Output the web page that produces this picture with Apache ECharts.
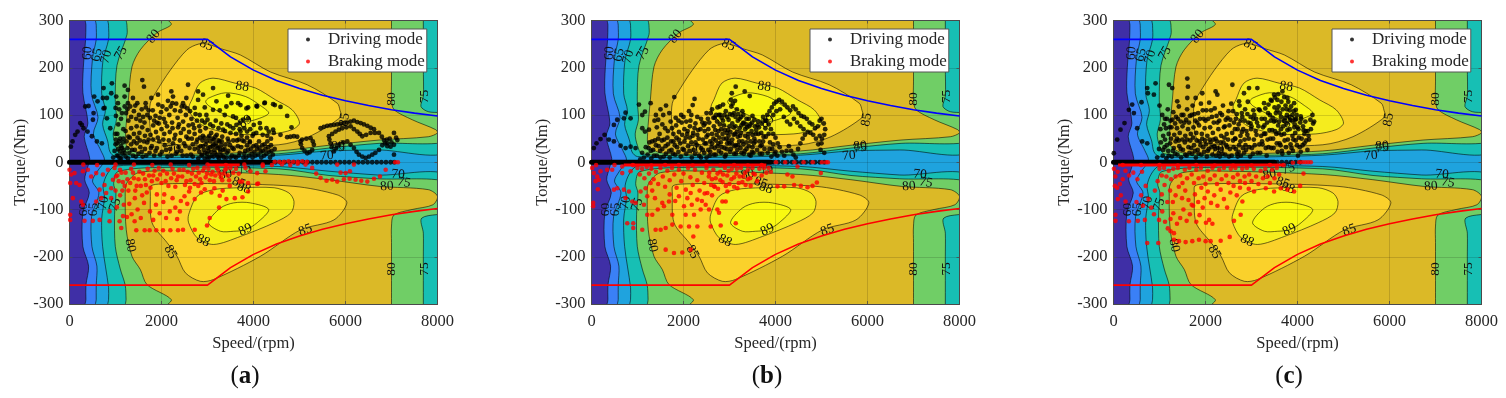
<!DOCTYPE html>
<html><head><meta charset="utf-8">
<style>html,body{margin:0;padding:0;background:#fff}#c{width:1506px;height:398px}</style>
<script src="https://cdn.jsdelivr.net/npm/echarts@6/dist/echarts.min.js"></script>
</head><body><div id="c"></div>
<script>
// efficiency contour outlines, [speed rpm, torque Nm]
const eff60=[[357,310],[357,290],[350,260],[300,200],[291,147],[400,83],[320,54],[440,8],[400,-9],[330,-37],[430,-65],[290,-107],[290,-178],[415,-220],[357,-260],[357,-290],[357,-310],[8300,-310],[8300,310]];
const eff65=[[581,310],[581,290],[581,260],[500,220],[475,145],[620,95],[520,60],[680,25],[760,4],[600,-20],[500,-40],[640,-65],[480,-115],[487,-178],[596,-220],[581,-260],[581,-290],[581,-310],[8300,-310],[8300,310]];
const eff70Up=[[849,310],[849,290],[849,260],[727,215],[700,145],[780,110],[720,80],[830,45],[880,22],[1000,12],[2500,10],[4550,15],[5638,24],[6700,26],[8300,29],[8300,310]];
const eff70Down=[[849,-310],[849,-290],[849,-265],[720,-178],[700,-120],[760,-75],[730,-50],[820,-25],[1000,-8],[2500,-7],[4550,-9],[5640,-19],[6700,-27],[8300,-35],[8300,-310]];
const eff75Up=[[1249,310],[1249,290],[1249,270],[1032,205],[995,132],[1020,90],[950,60],[1000,35],[1100,18],[2000,14],[3500,15],[4550,18],[5640,30],[6730,40],[8300,46],[8300,100],[7800,107],[7640,118],[7692,140],[7692,200],[7692,300],[7692,310]];
const eff75Down=[[1234,-310],[1230,-290],[1211,-260],[1104,-226],[995,-178],[980,-110],[1010,-65],[960,-45],[1050,-20],[2000,-11],[4550,-14],[5640,-28],[6700,-35],[8300,-44],[8300,-102],[7660,-118],[7692,-150],[7692,-200],[7692,-300],[7692,-310]];
const eff80Up=[[2050,310],[2214,292],[1900,274],[1539,238],[1358,202],[1280,132],[1220,60],[1240,35],[1500,20],[2500,17],[4550,24],[5640,36],[6730,47],[7800,54],[8000,62],[7960,69],[7450,90],[7050,112],[7000,135],[7000,170],[7000,250],[7000,300],[7000,310]];
const eff80Down=[[2050,-310],[2214,-291],[1685,-259],[1539,-227],[1358,-199],[1234,-143],[1211,-72],[1240,-45],[1500,-22],[2500,-19],[4550,-26],[5640,-37],[6730,-51],[7800,-58],[8000,-72],[7900,-90],[7450,-100],[7050,-112],[7000,-135],[7000,-170],[7000,-250],[7000,-300],[7000,-310]];
const eff85Up=[[2555,238],[2192,195],[1866,146],[1757,125],[1740,90],[1790,55],[1900,42],[3000,35],[4550,37],[5203,54],[5900,96],[5880,110],[5820,125],[5167,164],[4370,191],[3716,227],[3300,240],[3000,250],[2800,250]];
const eff85Down=[[1770,-50],[1757,-65],[1794,-128],[2120,-170],[2338,-199],[2519,-234],[2845,-252],[3133,-248],[4150,-199],[5024,-143],[5750,-122],[6030,-86],[5820,-69],[4880,-51],[3000,-45],[2000,-46]];
const eff88Up=[[2660,132],[2830,167],[3120,178],[3610,167],[4045,157],[4480,132],[4840,111],[5000,83],[4840,69],[4400,60],[3600,60],[2950,75],[2650,100],[2600,118]];
const eff88Down=[[2590,-111],[2775,-72],[3133,-58],[3700,-54],[4450,-54],[4770,-65],[4880,-83],[4815,-107],[4450,-128],[3716,-157],[3133,-174],[2775,-160],[2590,-128]];
const eff89Up=[[3030,136],[3390,147],[3830,139],[4150,120],[4330,104],[4100,92],[3790,86],[3400,100],[3050,118],[2960,128]];
const eff89Down=[[3023,-128],[3280,-97],[3570,-86],[3930,-86],[4330,-100],[4080,-128],[3825,-143],[3570,-146],[3280,-146]];
const effLevels=[eff60,eff65,eff70Up,eff70Down,eff75Up,eff75Down,eff80Up,eff80Down,eff85Up,eff85Down,eff88Up,eff88Down,eff89Up,eff89Down];
const effColors=['#3a80f6','#1fa3de','#17bfb4','#17bfb4','#70ce66','#70ce66','#dbb927','#dbb927','#fad12b','#fad12b','#f5ec1e','#f5ec1e','#f9f911','#f9f911'];
// contour labels: text, speed, torque, rotation
const effLabels=[['60',392,231,85],['65',596,227,78],['70',799,223,75],['75',1119,231,60],['80',1827,266,50],['85',2976,248,-25],['88',3753,160,-8],['89',3825,86,35],['85',5980,90,80],['80',7008,134,90],['75',7707,139,90],['80',7008,-226,90],['75',7707,-226,90],['70',5595,14,5],['80',5840,34,5],['75',5840,30,10],['70',2260,26,5],['70',7140,-26,-5],['75',7270,-43,-10],['80',6900,-51,5],['85',5130,-144,20],['85',2192,-190,-60],['80',1321,-176,-80],['60',309,-100,90],['65',522,-100,85],['70',740,-86,80],['75',995,-90,70],['88',2904,-166,-25],['89',3825,-143,25],['85',3680,-44,-20],['88',3790,-55,-20],['80',3390,-26,10],['75',3800,-14,20]];
// torque limits
const limitDrive=[[0,260],[3000,260],[3500,223],[4000,195],[4500,173],[5000,156],[5500,142],[6000,130],[6500,120],[7000,111],[7500,104],[8000,98]];
const limitBrake=[[0,-260],[3000,-260],[3500,-223],[4000,-195],[4500,-173],[5000,-156],[5500,-142],[6000,-130],[6500,-120],[7000,-111],[7500,-104],[8000,-98]];
// panel (a)
const aDrive=[[30,33],[66,44],[124,58],[175,65],[233,83],[269,79],[305,72],[342,118],[392,65],[414,119],[487,55],[523,104],[509,90],[537,139],[596,44],[610,129],[704,40],[741,157],[741,114],[813,93],[886,72],[922,167],[908,146],[726,136],[813,136],[762,115],[1016,139],[1198,162],[1270,153],[1198,139],[1053,125],[1002,115],[1379,136],[1270,125],[1474,125],[1655,125],[1778,136],[1924,143],[2214,150],[2250,139],[2236,125],[2540,136],[2468,125],[2795,150],[2903,143],[2795,132],[2940,116],[2722,115],[2831,100],[2976,100],[1583,174],[1619,160],[2577,164],[3121,157],[3448,141],[3194,129],[3520,125],[3665,125],[3716,121],[3411,118],[3883,116],[4065,119],[4246,126],[4464,121],[3121,111],[3266,110],[3375,100],[3556,97],[3774,90],[3883,93],[4137,83],[4282,72],[4427,69],[3121,76],[3339,69],[3629,79],[3701,83],[3847,114],[4079,118],[4238,125],[4427,123],[4587,117],[4732,98],[4826,74],[3716,65],[3861,65],[4006,79],[4151,72],[4333,65],[4442,62],[4587,58],[4732,53],
[1010,98],[1060,80],[1120,92],[1170,70],[1230,104],[1280,88],[1340,96],[1400,108],[1450,92],[1510,100],[1570,112],[1630,84],[1690,100],[1750,94],[1810,110],[1870,98],[1930,122],[1990,106],[2050,92],[2110,112],[2170,100],[2230,84],[2290,110],[2350,94],[2410,108],[2470,86],[2530,100],[2590,78],[2650,92],[2710,72],[2770,88],[1040,60],[1100,50],[1160,42],[1220,66],[1280,54],[1340,72],[1400,60],[1460,76],[1520,62],[1580,74],[1640,56],[1700,68],[1760,58],[1820,78],[1880,64],[1940,82],[2000,70],[2060,60],[2120,76],[2180,64],[2240,72],[2300,58],[2360,74],[2420,62],[2480,70],[2540,54],[2600,64],[2660,50],[2720,60],[2780,48],[2840,66],[2900,56],[2960,72],[3020,52],[3080,62],[3140,48],[3200,58],[3260,44],[3320,54],[3380,66],[3440,50],[3500,62],[3560,46],[3620,60],[3680,48],[3740,56],[3800,44],[3860,52],[3920,42],[3980,56],
[950,10],[980,24],[1000,38],[1030,14],[1060,28],[1090,8],[1120,34],[1150,18],[1180,26],[1220,12],[1260,30],[1300,20],[1340,38],[1380,14],[1420,26],[1460,40],[1500,18],[1540,32],[1590,12],[1640,28],[1690,42],[1740,20],[1790,34],[1840,14],[1900,30],[1950,44],[2010,22],[2070,36],[2130,12],[2190,28],[2250,40],[2310,18],[2370,32],[2430,24],[2490,40],[2550,14],[2610,30],
[2680,12],[2720,28],[2760,42],[2800,8],[2820,22],[2850,34],[2870,14],[2890,46],[2920,26],[2940,8],[2960,38],[2990,18],[3010,30],[3040,10],[3060,44],[3080,22],[3110,34],[3130,12],[3150,26],[3180,40],[3200,16],[3230,30],[3250,8],[3280,22],[3300,36],[3330,14],[3370,28],[3410,10],[3450,24],[3490,36],[3530,14],[3570,28],[3620,10],[3660,34],[3700,20],
[3780,10],[3820,24],[3860,36],[3900,14],[3940,28],[3980,10],[4020,22],[4060,36],[4100,16],[4130,30],[4170,10],[4200,24],[4240,38],[4280,18],[4320,32],[4360,10],[4390,24],
[4805,54],[4878,55],[4950,54],[5058,48],[5150,50],[5240,51],[5290,44],[5312,37],[5276,26],[5220,21],[5167,19],[5110,24],[5058,30],[5030,38],[5022,44],[5458,72],[5530,75],[5603,77],[5675,78],[5748,79],[5820,80],[5893,81],[5966,83],[6038,84],[6110,86],[6183,88],[6256,85],[6329,83],[6400,80],[6474,77],[6546,73],[6619,70],[5639,55],[5710,60],[5784,65],[5855,69],[5929,72],[6020,74],[6111,76],[6183,70],[6256,65],[6310,60],[6365,55],[6450,58],[6546,62],[6640,62],[6728,62],[6790,54],[6837,47],[6800,36],[6728,26],[6650,20],[6583,16],[6510,12],[6437,9],[6365,12],[6292,16],[6240,22],[6183,30],[6110,37],[6038,44],[5950,42],[5857,37],[5800,30],[5748,23],[5700,32],[5675,40],[5650,48],[6909,40],[6960,50],[7054,62],[7100,52],[7127,47],[7054,37],[6980,33],[6909,34],[6860,40],[6900,48],[7000,42],[7054,16]];
const aDriveDense=[[2800,30],[2840,52],[2880,16],[2900,34],[2930,52],[2950,20],[2980,44],[3000,10],[3020,24],[3040,56],[3060,32],[3090,14],[3110,50],[3130,38],[3160,20],[3170,54],[3200,34],[3220,12],[3240,46],[3270,28],[3290,14],[3310,44],[3340,26],[3360,10],[3390,38],[3420,20],[3460,44],[3500,10],[3540,30],[3590,12],[3640,46],[3680,14],[3730,32],[3760,46],[3800,18],[3840,10],[3880,26],[3920,44],[3960,18],[4000,34],[4040,14],[4080,28],[4120,44],[4160,22],[4190,36],[4230,14],[4260,28],[4300,44],[4340,22],[4380,36],[4420,16],[4460,28],[1000,60],[1010,48],[1040,40],[1060,14],[1080,44],[1100,24],[1120,8],[1140,30],[1170,50],[1200,20],[1240,44],[1270,8],[1310,52],[1360,26],[1400,44],[1440,12],[1480,52],[1530,46],[1570,22],[1620,44],[1670,14],[1720,48],[1770,30],[1820,48],[1870,24],[1920,52],[1970,16],[2040,48],[2100,26],[2160,46],[2220,14],[2280,50],[2340,22],[2400,46],[2460,14],[2520,34],[2580,50],[2640,16],[2680,38],[1080,112],[1140,104],[1200,118],[1260,112],[1320,118],[1430,120],[1540,88],[1600,96],[1660,116],[1720,110],[1840,88],[1900,84],[1960,94],[2020,118],[2080,84],[2140,130],[2200,118],[2320,124],[2380,80],[2440,118],[2500,118],[2560,114],[2620,108],[2680,80],[2740,102],[2820,76],[2880,88],[2940,84],[3000,90],[3060,80],[3180,88],[3240,72],[3300,82],[3430,80],[3490,76],[3560,72],[3620,94],[3700,70],[3800,72],[3930,70],[4000,60],[4060,62],[4200,58],[4300,56],[4380,50]];
const aBrake=[[0,-16],[37,-26],[15,-44],[109,-23],[146,-44],[218,-48],[291,-19],[400,-16],[472,-30],[581,-23],[726,-26],[835,-16],[944,-37],[762,-48],[654,-58],[798,-65],[908,-55],[581,-83],[690,-76],[908,-76],[255,-83],[291,-90],[73,-76],[15,-111],[15,-122],[327,-124],[508,-124],[654,-122],[871,-104],[871,-125],[1162,-114],[1089,-125],[1125,-139],[1416,-125],[1452,-144],[1634,-144],[1742,-144],[1887,-144],[2032,-144],[2192,-144],[2359,-144],[2468,-143],[2722,-143],[2990,-134],[3048,-118],[3252,-96],[3411,-78],[3593,-76],[3760,-74],[3266,-71],[3085,-64],[2940,-57],[2722,-78],[4101,-45],[3883,-62],[3883,-44],[3701,-41],[3484,-50],[3825,-12],[3934,-19],[4079,-23],[4260,-19],[4079,-46],[3752,-41],[5131,-5],[5276,-12],[5363,-24],[5458,-33],[5588,-39],[5712,-37],[5820,-41],[5966,-36],[6089,-35],[6219,-37],[6343,-39],[6474,-41],[6619,-35],[6749,-30],[6873,-16],[5893,-22],[6002,-23],[6096,-19],[5820,-5],[6183,-5],
[980,-12],[1040,-28],[1100,-16],[1160,-42],[1220,-22],[1280,-60],[1340,-14],[1400,-34],[1460,-50],[1520,-20],[1580,-70],[1640,-36],[1700,-14],[1760,-54],[1820,-28],[1880,-90],[1940,-12],[2000,-44],[2060,-68],[2120,-24],[2180,-104],[2240,-14],[2300,-52],[2360,-30],[2420,-82],[2480,-16],[2540,-40],[2600,-62],[2660,-24],[2720,-46],[2780,-12],[2840,-36],[2900,-18],[2960,-32],[3020,-14],[3080,-26],[3140,-40],[3200,-12],[3260,-24],[3320,-38],[3380,-16],[3440,-28],[3500,-12],[3560,-22],[3620,-14],[3680,-24],[1300,-88],[1350,-110],[1420,-76],[1480,-100],[1550,-118],[1620,-86],[1680,-64],[1750,-104],[1820,-122],[1900,-68],[1960,-108],[2040,-84],[2100,-118],[2240,-76],[2300,-96],[2340,-120],[2400,-104],[2500,-72],[2560,-88],[2620,-54],[2800,-50],[2860,-64],[1100,-70],[1180,-90],[1250,-116],[1030,-95],[1000,-60],[1150,-60],[3150,-55],[3330,-60],[4200,-8],[4400,-6],[4620,-4],[4800,-6],[4960,-3],
[1010,-30],[1070,-40],[1130,-22],[1200,-50],[1260,-36],[1320,-44],[1380,-22],[1430,-60],[1500,-36],[1550,-50],[1600,-24],[1660,-48],[1730,-28],[1790,-40],[1850,-18],[1910,-36],[1970,-26],[2040,-18],[2090,-40],[2150,-50],[2210,-34],[2270,-24],[2330,-38],[2390,-16],[2450,-30],[2510,-48],[2570,-20],[2630,-38],[2690,-14],[2750,-30],[2810,-22],[2870,-44],[2930,-12],[2990,-24],[3050,-38],[3110,-20],[3170,-28],[3230,-16],[3290,-32],[3350,-24],[3410,-14],[3470,-38]];
const aIdleLine=[[0,0],[4400,0]];
const aIdleDots=[[4480,0],[4580,0],[4680,0],[4780,0],[4880,0],[4980,0],[5080,0],[5180,0],[5280,0],[5380,0],[5480,0],[5580,0],[5680,0],[5780,0],[5880,0],[5980,0],[6080,0],[6180,0],[6280,0],[6380,0],[6480,0],[6580,0],[6680,0],[6780,0],[6880,0],[6980,0],[7060,0]];
const aIdleRed=[[300,-5],[600,-6],[1000,-5],[1400,-5],[1800,-6],[2200,-5],[2600,-6],[3000,-5],[3400,-6],[3800,-5],[4200,-5],[4460,1],[4560,1],[4660,1],[4760,2],[4860,1],[4960,1],[5060,2],[5160,1],[7080,0],[7140,0]];
const aRedRow=[[3000,-6],[3700,-6]];
// panel (b)
const bDrive=[[51,30],[109,40],[196,49],[284,58],[378,48],[487,44],[632,35],[741,30],[850,33],[958,30],[559,90],[487,79],[704,93],[741,105],[850,93],[1031,122],[1104,100],[1104,72],[1285,125],[1162,107],[1249,69],[1162,65],[2200,121],[2240,134],[2170,100],[1800,138],[1950,100],[2150,88],[1500,112],[1560,100],[1620,120],[1370,88],[1420,74],[1480,60],[1540,80],[1600,72],[1660,66],[1720,86],[1780,60],[1840,78],[1900,64],[1960,84],[2020,70],[2080,60],[2140,76],[2200,56],[2260,82],[2320,68],[2380,92],[2440,78],[2500,104],[2560,84],[2620,112],[2680,94],[2740,116],[2800,100],[2860,122],[2920,108],[2980,90],[3040,118],[3100,104],[3160,112],[3220,92],[3280,108],[2790,118],[3050,146],[3135,160],[3330,150],[3440,140],[3030,132],[3120,130],[3500,98],
[1060,6],[1100,20],[1140,10],[1180,32],[1220,16],[1260,42],[1300,8],[1340,26],[1380,46],[1420,14],[1460,34],[1500,10],[1540,28],[1580,48],[1620,18],[1660,38],[1700,10],[1740,26],[1780,44],[1820,16],[1860,32],[1900,48],[1940,12],[1980,28],[2020,44],[2060,18],[2100,34],[2140,52],[2180,10],[2220,26],[2260,42],[2300,58],[2340,14],[2380,30],[2420,48],[2460,66],[2500,10],[2540,26],[2580,44],[2620,60],[2660,76],[2700,16],[2740,34],[2780,52],[2820,70],[2860,88],[2900,12],[2940,28],[2980,46],[3020,64],[3060,82],[3100,18],[3140,36],[3180,54],[3220,72],[3260,20],[3300,38],[3340,56],[3380,74],[3420,92],[3460,14],[3500,32],[3540,50],[3580,68],[3620,86],[3660,18],[3700,36],[3740,54],[3780,72],
[2450,20],[2490,40],[2530,58],[2570,14],[2610,32],[2650,50],[2690,68],[2730,86],[2770,24],[2810,42],[2850,60],[2890,30],[2930,50],[2970,68],[3010,22],[3050,40],[3090,58],[3130,76],[3170,26],[3210,44],[3250,62],[3290,82],[3330,24],[3370,42],[3410,60],[3450,80],[3490,22],[3530,40],[3570,60],[3610,78],[3650,44],[3690,62],[3730,96],[3770,88],[2700,46],[2760,66],[2820,20],[2880,78],[2940,62],[3000,40],[3060,100],[3120,60],[3180,88],[3240,30],[3300,100],[3360,80],[3420,34],[3480,66],[3540,90],
[3820,100],[3870,108],[3920,116],[3970,124],[4020,128],[4080,132],[4140,128],[4200,122],[4260,116],[4320,110],[4380,118],[4440,112],[4500,104],[4560,98],[4620,96],[4680,92],[4740,84],[4800,80],[4860,72],[4920,76],[4960,88],[5000,92],[5050,82],[5080,70],[5060,58],[5010,50],[4960,56],[3800,88],[3850,80],[3900,70],[3950,60],[4000,52],[4050,40],[4090,32],[4140,22],[4190,14],[4240,24],[4290,34],[4340,24],[4390,16],[4440,10],[4490,28],[4540,40],[4590,50],[4640,58],[4700,64],[4760,62],[4820,58],[4880,50],[4930,38],[4980,26],[3880,42],[3930,28],[3980,18],[3850,60],[3950,100],[4020,108],[4100,112],[4180,96],[4250,86],[4320,80],[4400,92],[4470,84],[4540,76],[4610,70],[5000,40],[5060,20]];
const bDriveDense=[[2380,10],[2420,26],[2460,40],[2500,54],[2540,70],[2580,22],[2620,40],[2660,16],[2680,30],[2720,58],[2760,40],[2790,80],[2830,32],[2870,50],[2900,68],[2920,16],[2950,40],[2980,56],[3000,76],[3030,28],[3060,48],[3090,74],[3110,34],[3140,18],[3160,64],[3190,36],[3230,56],[3260,78],[3280,44],[3310,18],[3340,70],[3370,28],[3400,52],[3430,16],[3460,44],[3500,58],[3520,20],[3560,44],[3600,26],[3630,60],[3670,34],[3710,18],[3730,44],[3760,28],[3790,54],[3830,20],[3870,28],[3910,12],[3950,38],[4000,22],[4040,14],[1240,30],[1290,24],[1320,44],[1360,14],[1400,36],[1450,50],[1490,24],[1530,46],[1570,12],[1610,34],[1650,52],[1690,24],[1730,44],[1770,18],[1810,36],[1850,52],[1890,22],[1930,40],[1970,58],[2010,26],[2050,52],[2090,66],[2130,24],[2170,42],[2210,62],[2250,18],[2290,36],[2330,50],[2370,70],[2410,84],[2470,82],[2530,92],[2590,104],[2650,94],[2710,100],[2770,100],[2830,94],[2890,100],[2950,96],[3010,102],[3070,124],[3130,96],[3190,102],[3250,96],[3310,84],[3370,92],[3430,76],[3490,84],[3550,76],[3640,74],[3700,82],[1830,94],[1890,88],[1690,104],[1750,72],[2000,96],[2060,86],[2120,108],[2240,72],[2300,96],[1400,100],[1450,90]];
const bBrake=[[15,-12],[51,-23],[124,-30],[196,-19],[88,-40],[160,-37],[138,-57],[37,-86],[37,-93],[341,-16],[450,-16],[668,-23],[668,-9],[850,-19],[487,-58],[559,-55],[704,-58],[813,-62],[741,-76],[886,-83],[958,-86],[1067,-62],[1212,-72],[1285,-44],[1176,-55],[1140,-90],[1212,-111],[1321,-111],[777,-129],[908,-129],[908,-139],[1104,-143],[1394,-143],[1503,-143],[1612,-139],[1757,-132],[1938,-136],[2120,-136],[2301,-136],[2591,-136],[2809,-134],[3136,-129],[1612,-185],[1793,-192],[1974,-191],[2214,-157],[2156,-185],[1539,-86],[1684,-83],[1575,-93],[1757,-111],[2047,-111],[2229,-111],[2373,-100],[2482,-90],[2011,-93],[2083,-76],[2156,-65],[2301,-79],[2555,-100],[2736,-100],[2845,-83],[2917,-83],[2772,-107],[2519,-65],[2664,-51],[2954,-62],[3172,-55],[4043,-51],[4188,-51],[4405,-48],[4551,-50],[4696,-53],[4805,-50],[4899,-43],[4260,-26],[4369,-30],[4478,-9],[4986,-23],
[1000,-12],[1050,-26],[1100,-14],[1150,-34],[1200,-10],[1250,-24],[1300,-14],[1350,-36],[1400,-20],[1450,-46],[1500,-12],[1550,-30],[1600,-52],[1650,-18],[1700,-38],[1750,-12],[1800,-26],[1850,-54],[1900,-16],[1950,-40],[2000,-24],[2050,-58],[2100,-12],[2150,-32],[2200,-48],[2250,-16],[2300,-38],[2350,-60],[2400,-22],[2450,-44],[2500,-12],[2550,-30],[2600,-48],[2650,-16],[2700,-34],[2750,-56],[2800,-20],[2850,-42],[2900,-12],[2950,-28],[3000,-46],[3050,-14],[3100,-32],[3150,-24],[3200,-44],[3250,-12],[3300,-30],[3350,-48],[3400,-16],[3450,-34],[3500,-12],[3550,-26],[3600,-40],[3650,-14],[3700,-28],[3750,-12],[3800,-22],[3850,-12],[3900,-20],[1700,-68],[1820,-82],[1900,-72],[2400,-82],[2460,-66],[2620,-70],[2180,-90],[1440,-100],[1380,-76],[1320,-60],[2560,-22],[2620,-36],[2680,-52],[2740,-24],[2800,-38],[2860,-26],[2920,-50],[2980,-18],[3040,-36],[3100,-52],[3160,-14],[3220,-30],[3280,-42],[3340,-22],[3400,-36],[3460,-50],[3520,-24]];
const bIdleLine=[[0,0],[3900,0]];
const bIdleDots=[[3960,0],[4060,0],[4160,0],[4260,0],[4360,0],[4460,0],[4560,0],[4660,0],[4760,0],[4860,0],[4960,0],[5060,0]];
const bIdleRed=[[100,-6],[500,-6],[900,-6],[1300,-7],[1600,-6],[1900,-6],[2200,-7],[2500,-6],[2800,-7],[3100,-6],[3400,-7],[3700,-6],[4010,0],[4210,0],[4410,0],[4610,0],[4810,0],[5010,0],[5100,0],[5140,0]];
const bRedRow=[[700,-6],[3800,-6]];
// panel (c)
const cDrive=[[7,19],[80,48],[152,69],[239,83],[334,111],[406,122],[443,104],[515,72],[609,127],[624,44],[733,40],[733,157],[747,146],[878,143],[914,167],[1205,164],[1277,157],[1386,129],[1604,177],[1618,160],[1604,136],[1785,136],[1930,146],[2220,150],[2257,143],[2584,164],[2837,146],[2729,129],[2946,157],[3128,157],[3491,143],[3672,150],[3563,132],[3418,132],[3273,125],[3781,136],[3926,125],[3962,111],[4071,97],[4361,86],[4325,100],[4252,48],[4216,26],
[1000,120],[1060,100],[1120,92],[1180,112],[1240,88],[1300,106],[1360,96],[1420,118],[1480,100],[1540,84],[1600,112],[1660,98],[1720,120],[1780,88],[1840,104],[1900,124],[1960,92],[2020,110],[2080,126],[2140,96],[2200,114],[2260,84],[2320,104],[2380,120],[2440,90],[2500,108],[2560,124],[2620,84],[2680,102],[2740,120],[2800,96],[2860,112],[2920,128],[2980,96],[3040,110],[3100,92],[3160,112],[1020,70],[1080,56],[1140,72],[1200,60],[1260,74],[1320,58],[1380,72],[1440,62],[1500,76],[1560,56],[1620,70],[1680,60],[1740,74],[1800,62],[1860,78],[1920,60],[1980,72],[2040,56],[2100,74],[2160,62],[2220,50],[2280,70],[2340,56],[2400,74],[2460,60],[2520,78],[2580,62],[2640,50],[2700,70],[2760,56],
[950,10],[990,28],[1030,42],[1070,14],[1110,32],[1150,8],[1190,24],[1230,40],[1270,12],[1310,30],[1350,44],[1390,16],[1430,34],[1470,10],[1510,26],[1550,42],[1590,14],[1630,32],[1670,46],[1710,18],[1750,36],[1790,10],[1830,26],[1870,44],[1910,16],[1950,32],[1990,46],[2030,12],[2070,28],[2110,42],[2150,16],[2190,34],[2230,14],[2270,30],[2310,12],[2350,28],[2390,42],[2430,16],[2470,32],[2510,12],
[2570,14],[2610,32],[2650,50],[2690,18],[2730,36],[2770,14],[2810,30],[2850,48],[2890,66],[2930,84],[2970,12],[3010,30],[3050,48],[3090,66],[3130,20],[3170,38],[3210,56],[3250,74],[3290,92],[3330,14],[3370,32],[3410,50],[3450,68],[3490,86],[3530,104],[3570,22],[3610,40],[3650,58],[3690,76],[3730,94],[3770,112],[3810,20],[3850,38],[3890,56],[3930,74],[3970,92],[4010,14],[4050,32],[4090,50],[4130,68],[4170,86],[2640,70],[2700,12],[2760,88],[2820,70],[2880,26],[2940,50],[3000,76],[3060,100],[3120,84],[3180,110],[3240,38],[3300,60],[3360,104],[3420,88],[3480,30],[3540,60],[3600,86],[3660,24],[3720,46],[3780,68],[3840,90],[3900,24],[3960,46],[4020,70],[4080,92],
[3300,114],[3370,122],[3440,130],[3510,137],[3580,144],[3500,116],[3560,110],[3620,104],[3680,112],[3740,120],[3800,128],[3860,118],[3920,108],[3980,100],[3640,96],[3700,88],[3760,82],[3820,96],[3880,88],[3940,80],[4000,74],[4060,84],[4120,76],[4180,66],[4240,56],[4290,70],[4340,82],[3400,100],[3460,94],[3520,88],[3580,78],[3640,70],[4150,40],[4220,66],[4280,90]];
const cDriveDense=[[2720,22],[2760,44],[2790,64],[2840,20],[2870,36],[2910,58],[2950,32],[2990,70],[3030,18],[3070,36],[3110,58],[3150,76],[3190,20],[3230,44],[3270,60],[3310,30],[3350,48],[3390,68],[3430,30],[3470,50],[3510,66],[3550,40],[3590,62],[3630,36],[3670,18],[3710,60],[3750,32],[3790,48],[3830,70],[3870,30],[3910,48],[3950,62],[3990,36],[4030,52],[4070,22],[4110,36],[4150,60],[4190,46],[1080,26],[1120,48],[1160,36],[1200,14],[1250,50],[1290,24],[1340,18],[1380,50],[1420,46],[1460,28],[1500,48],[1560,16],[1600,48],[1650,20],[1690,30],[1730,52],[1770,24],[1810,46],[1850,18],[1890,36],[1930,50],[1970,22],[2010,38],[2050,24],[2090,48],[2130,32],[2170,48],[2210,28],[2250,44],[2290,20],[2330,42],[2370,18],[2410,52],[2450,36],[2490,48],[2530,28],[2600,46],[2660,28],[1100,80],[1160,92],[1220,74],[1280,90],[1340,82],[1400,92],[1460,86],[1520,100],[1580,90],[1640,84],[1700,100],[1760,102],[1820,84],[1880,92],[1940,110],[2000,88],[2060,92],[2120,110],[2180,84],[2240,98],[2300,88],[2360,100],[2420,76],[2480,94],[2540,90],[2600,108],[2660,92],[2720,80],[2790,104],[2850,88],[2910,102],[2980,82],[3040,92],[3220,92],[3280,78],[3340,84],[3590,118],[3650,128],[3710,138],[3770,100],[3830,110],[3890,100],[3950,90]];
const cBrake=[[733,-171],[973,-171],[1314,-164],[1423,-167],[1568,-169],[1713,-167],[1858,-164],[2003,-167],[2112,-167],[2330,-166],[2526,-158],[1241,-146],[1314,-150],[2620,-124],[2765,-111],[2802,-83],[3055,-62],[3310,-55],[3491,-62],[3636,-55],[3781,-58],[3926,-62],[4057,-50],[4130,-24],[334,-125],[530,-124],[682,-122],[44,-111],[44,-124],[95,-78],[262,-83],[10,-14],[40,-30],[90,-20],[140,-46],[200,-36],[260,-18],[340,-28],[430,-22],[30,-50],[80,-54],[160,-70],[520,-36],[620,-20],[700,-50],[600,-70],[500,-84],[640,-92],[760,-78],[820,-96],[900,-60],[960,-40],[880,-110],[990,-122],[1060,-104],[1120,-126],[1180,-140],[1240,-120],[1300,-108],[1380,-130],[1450,-118],[1520,-100],[1590,-124],[1660,-110],[1730,-92],[1800,-126],[1870,-112],[1940,-96],[2010,-128],[2080,-122],[2150,-130],[1050,-68],[1110,-48],[1170,-84],[1230,-60],[1290,-84],[1350,-70],[1420,-52],[1490,-76],[1560,-60],[1630,-80],[1700,-90],[1770,-68],[1840,-84],[1910,-54],[1980,-76],[2050,-62],[2120,-86],[2190,-70],[2260,-92],[2330,-58],[2400,-78],[2470,-96],[2540,-64],
[2610,-50],[2680,-70],[2750,-54],[2860,-44],[2940,-56],
[1000,-14],[1050,-28],[1100,-12],[1150,-30],[1200,-18],[1250,-36],[1300,-14],[1350,-30],[1400,-12],[1450,-28],[1500,-44],[1550,-16],[1600,-34],[1650,-12],[1700,-26],[1750,-44],[1800,-16],[1850,-34],[1900,-12],[1950,-30],[2000,-46],[2050,-18],[2100,-36],[2150,-12],[2200,-28],[2250,-46],[2300,-16],[2350,-36],[2400,-12],[2450,-28],[2500,-44],[2550,-14],[2600,-32],[2650,-12],[2700,-26],[2750,-40],[2800,-14],[2850,-30],[2900,-12],[2950,-26],[3000,-40],[3050,-14],[3100,-30],[3150,-46],[3200,-18],[3250,-34],[3300,-14],[3350,-30],[3400,-44],[3450,-16],[3500,-34],[3550,-12],[3600,-26]];
const cIdleLine=[[0,0],[3500,0]];
const cIdleDots=[[3560,0],[3660,0],[3760,0],[3860,0],[3960,0],[4060,0]];
const cIdleRed=[[200,-6],[600,-6],[1000,-6],[1400,-7],[1800,-6],[2200,-7],[2600,-7],[3000,-7],[3400,-6],[3700,-6],[3900,-1],[4040,0],[4110,0],[4170,0],[4230,0],[4290,0]];
const cRedRow=[[100,-6],[3700,-6]];
// axis ticks and text
const speedTicks={min:0,max:8000,interval:2000};
const torqueTicks={min:-300,max:300,interval:100};
const panels=[
 {left:69,letter:'a',drive:aDrive.concat(aDriveDense),brake:aBrake,idleLine:aIdleLine,idleDots:aIdleDots,idleRed:aIdleRed,redRow:aRedRow},
 {left:591,letter:'b',drive:bDrive.concat(bDriveDense),brake:bBrake,idleLine:bIdleLine,idleDots:bIdleDots,idleRed:bIdleRed,redRow:bRedRow},
 {left:1113,letter:'c',drive:cDrive.concat(cDriveDense),brake:cBrake,idleLine:cIdleLine,idleDots:cIdleDots,idleRed:cIdleRed,redRow:cRedRow}];
const FF='"Liberation Serif","Times New Roman",serif',INK='#262626',BOX='#4a4a4a';
const PW=368,PH=283.5,PT=20.5;
const option={animation:false,backgroundColor:'#fff',grid:[],xAxis:[],yAxis:[],series:[],legend:[],title:[]};
panels.forEach((p,i)=>{
 option.grid.push({left:p.left+.5,top:PT,width:PW,height:PH,show:true,backgroundColor:'#3f2fa6',borderWidth:0,containLabel:false});
 const ax=(o)=>Object.assign({gridIndex:i,type:'value',z:1.5},o);
 const tick={show:true,inside:true,length:3,lineStyle:{color:BOX,width:.8}};
 const line={show:true,onZero:false,lineStyle:{color:BOX,width:1}};
 const split={show:true,lineStyle:{color:'rgba(0,0,0,.14)',width:1}};
 const lab={color:INK,fontFamily:FF,fontSize:16.5,formatter:v=>String(v)};
 option.xAxis.push(ax({...speedTicks,position:'bottom',axisLine:line,axisTick:tick,splitLine:split,axisLabel:{...lab,margin:9,showMaxLabel:true,showMinLabel:true},name:'Speed/(rpm)',nameLocation:'middle',nameGap:28,nameTextStyle:{color:INK,fontFamily:FF,fontSize:16.5}}));
 option.xAxis.push(ax({...speedTicks,position:'top',axisLine:line,axisTick:tick,splitLine:{show:false},axisLabel:{show:false}}));
 option.yAxis.push(ax({...torqueTicks,position:'left',axisLine:line,axisTick:tick,splitLine:split,axisLabel:{...lab,margin:6},name:'Torque/(Nm)',nameLocation:'middle',nameGap:39,nameTextStyle:{color:INK,fontFamily:FF,fontSize:16.5}}));
 option.yAxis.push(ax({...torqueTicks,position:'right',axisLine:line,axisTick:tick,splitLine:{show:false},axisLabel:{show:false}}));
 const xi=i*2,yi=i*2;
 option.series.push({type:'custom',xAxisIndex:xi,yAxisIndex:yi,z:1,clip:true,silent:true,data:effLevels.map((_,k)=>[k]),encode:{x:0},
  renderItem:(params,api)=>({type:'polygon',shape:{points:effLevels[params.dataIndex].map(q=>api.coord(q)),smooth:.3},style:{fill:effColors[params.dataIndex],stroke:'rgba(0,0,0,.8)',lineWidth:.7}})});
 option.series.push({type:'custom',xAxisIndex:xi,yAxisIndex:yi,z:1.2,clip:true,silent:true,data:effLabels.map((_,k)=>[k]),encode:{x:0},
  renderItem:(params,api)=>{const L=effLabels[params.dataIndex],c=api.coord([L[1],L[2]]);return{type:'text',x:c[0],y:c[1],rotation:L[3]*Math.PI/180,style:{text:L[0],fill:'#111',font:'13.5px '+FF,align:'center',verticalAlign:'middle'}}}});
 option.series.push({type:'line',name:'Driving limit',xAxisIndex:xi,yAxisIndex:yi,z:2,data:limitDrive,symbol:'none',silent:true,lineStyle:{color:'#0000ff',width:1.6}});
 option.series.push({type:'line',name:'Braking limit',xAxisIndex:xi,yAxisIndex:yi,z:2,data:limitBrake,symbol:'none',silent:true,lineStyle:{color:'#ff0000',width:1.6}});
 option.series.push({type:'scatter',name:'Driving mode',xAxisIndex:xi,yAxisIndex:yi,z:3,data:p.drive.concat(p.idleDots),symbol:'circle',symbolSize:4.8,silent:true,clip:false,itemStyle:{color:'#000'},large:false});
 option.series.push({type:'line',name:'Driving zero',xAxisIndex:xi,yAxisIndex:yi,z:3,data:p.idleLine,symbol:'none',silent:true,lineStyle:{color:'#000',width:5,cap:'round'}});
 option.series.push({type:'scatter',name:'Braking mode',xAxisIndex:xi,yAxisIndex:yi,z:4,data:p.brake.concat(p.idleRed),symbol:'circle',symbolSize:4.6,silent:true,clip:false,itemStyle:{color:'#ff0000'}});
 option.series.push({type:'line',name:'Braking zero',xAxisIndex:xi,yAxisIndex:yi,z:4,data:p.redRow,symbol:'none',silent:true,lineStyle:{color:'#ff0000',width:3}});
 option.legend.push({left:p.left+219,top:29,orient:'vertical',data:['Driving mode','Braking mode'],selectedMode:false,icon:'circle',itemWidth:4,itemHeight:4,itemGap:3,backgroundColor:'#fff',borderColor:'#555',borderWidth:1,padding:[1,2,1,18],textStyle:{color:INK,fontFamily:FF,fontSize:17,lineHeight:19,padding:[0,0,0,13]},z:6});
 option.title.push({text:'{n|(}{b|'+p.letter+'}{n|)}',left:p.left+171,top:359,textAlign:'center',textStyle:{fontWeight:'normal',rich:{n:{fontFamily:FF,fontSize:25,fontWeight:'normal',color:'#111'},b:{fontFamily:FF,fontSize:25,fontWeight:'bold',color:'#111'}}}});
});
echarts.init(document.getElementById('c'),null,{renderer:'canvas'}).setOption(option);
</script></body></html>
